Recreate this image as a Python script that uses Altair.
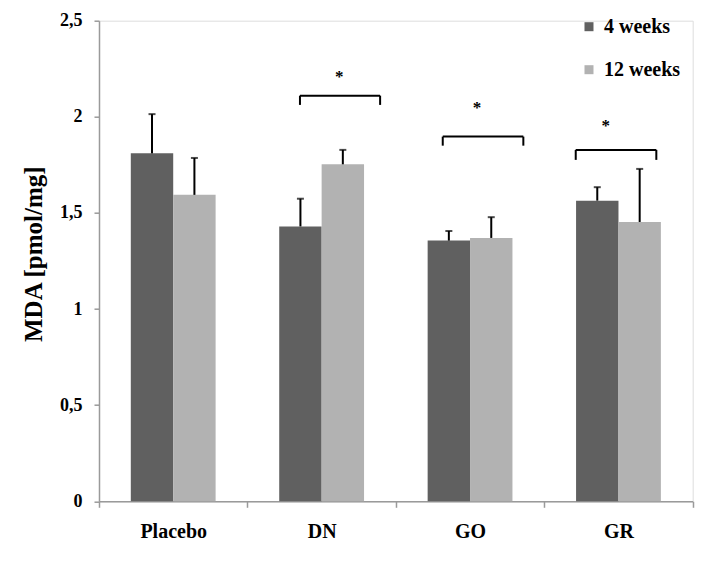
import altair as alt
import pandas as pd

groups = ["Placebo", "DN", "GO", "GR"]
series = ["4 weeks", "12 weeks"]
mean_4w = [1.81, 1.43, 1.356, 1.564]
mean_12w = [1.594, 1.753, 1.37, 1.453]
err_4w = [0.204, 0.144, 0.05, 0.07]
err_12w = [0.192, 0.075, 0.108, 0.276]

# significance brackets (x in category units: 0..4 across the axis)
br_start = [1.354, 2.316, 3.212]
br_end = [1.894, 2.859, 3.755]
br_top = [2.110, 1.897, 1.828]
br_low = [2.062, 1.850, 1.776]
star_x = [1.619, 2.547, 3.414]
star_y = [2.179, 2.018, 1.924]

rows = []
for i, g in enumerate(groups):
    rows.append({"group": g, "series": series[0], "value": mean_4w[i], "upper": mean_4w[i] + err_4w[i]})
    rows.append({"group": g, "series": series[1], "value": mean_12w[i], "upper": mean_12w[i] + err_12w[i]})
df = pd.DataFrame(rows)

br = pd.DataFrame({"xa": br_start, "xb": br_end, "yt": br_top, "yl": br_low})
legs = pd.DataFrame({"x": br_start + br_end, "yt": br_top + br_top, "yl": br_low + br_low})
stars = pd.DataFrame({"x": star_x, "y": star_y, "t": ["*"] * 3})

FONT = "Liberation Serif"

x_enc = alt.X("group:N", sort=groups, title=None,
              scale=alt.Scale(paddingInner=0, paddingOuter=0),
              axis=alt.Axis(labelAngle=0, tickBand="extent", tickSize=6,
                            labelPadding=30, labelBaseline="alphabetic",
                            labelFontSize=20, labelFont=FONT, labelFontWeight="bold",
                            labelColor="black", domainColor="#9a9a9a", tickColor="#9a9a9a",
                            domainWidth=1.5, tickWidth=1.5))
xo_enc = alt.XOffset("series:N", sort=series,
                     scale=alt.Scale(paddingInner=0, paddingOuter=0.75))
y_enc = alt.Y("value:Q", title="MDA [pmol/mg]",
              scale=alt.Scale(domain=[0, 2.5], nice=False),
              axis=alt.Axis(values=[0, 0.5, 1, 1.5, 2, 2.5], format="~g",
                            labelExpr="replace(datum.label, '.', ',')",
                            grid=False, tickSize=5, labelPadding=12,
                            labelFontSize=18, labelFont=FONT, labelFontWeight="bold",
                            labelColor="black", domainColor="#9a9a9a", tickColor="#9a9a9a",
                            domainWidth=1.5, tickWidth=1.5,
                            titleFont=FONT, titleFontSize=25, titleFontWeight="bold",
                            titleColor="black", titleX=-57, titleY=233,
                            titleBaseline="alphabetic", titleAlign="center", titleAngle=270))

base = alt.Chart(df)

bars = base.mark_bar().encode(
    x=x_enc, xOffset=xo_enc, y=y_enc,
    color=alt.Color("series:N", sort=series,
                    scale=alt.Scale(domain=series, range=["#606060", "#b2b2b2"]),
                    legend=alt.Legend(title=None, orient="none", legendX=480, legendY=-4,
                                      symbolType="square", symbolSize=81, symbolStrokeWidth=0,
                                      labelFont=FONT, labelFontSize=20, labelFontWeight="bold",
                                      labelColor="black", rowPadding=23, labelOffset=5,
                                      padding=0)),
)

err = base.mark_rule(color="black", strokeWidth=2).encode(
    x=alt.X("group:N", sort=groups), xOffset=alt.XOffset("series:N", sort=series),
    y="value:Q", y2="upper:Q")

caps = base.mark_tick(orient="horizontal", size=7, thickness=2, color="black").encode(
    x=alt.X("group:N", sort=groups), xOffset=alt.XOffset("series:N", sort=series),
    y="upper:Q")

xq = alt.Scale(domain=[0, 4], nice=False, zero=False)

hline = alt.Chart(br).mark_rule(color="black", strokeWidth=2).encode(
    x=alt.X("xa:Q", scale=xq, axis=None), x2="xb:Q", y="yt:Q")
vline = alt.Chart(legs).mark_rule(color="black", strokeWidth=2).encode(
    x=alt.X("x:Q", scale=xq, axis=None), y="yt:Q", y2="yl:Q")
stxt = alt.Chart(stars).mark_text(font=FONT, fontSize=17, fontWeight="bold", baseline="alphabetic",
                                  align="center", color="black").encode(
    x=alt.X("x:Q", scale=xq, axis=None), y="y:Q", text="t:N")

bar_part = alt.layer(bars, err, caps)
ann = alt.layer(hline, vline, stxt)

chart = alt.layer(bar_part, ann).resolve_scale(x="independent").properties(
    width=593.7, height=480.6, autosize="none",
    padding={"left": 91, "top": 12.7, "right": 11, "bottom": 51},
).configure_view(stroke=None).configure(background="white")

chart.save("out.html", embed_options={"renderer": "svg", "actions": False})
